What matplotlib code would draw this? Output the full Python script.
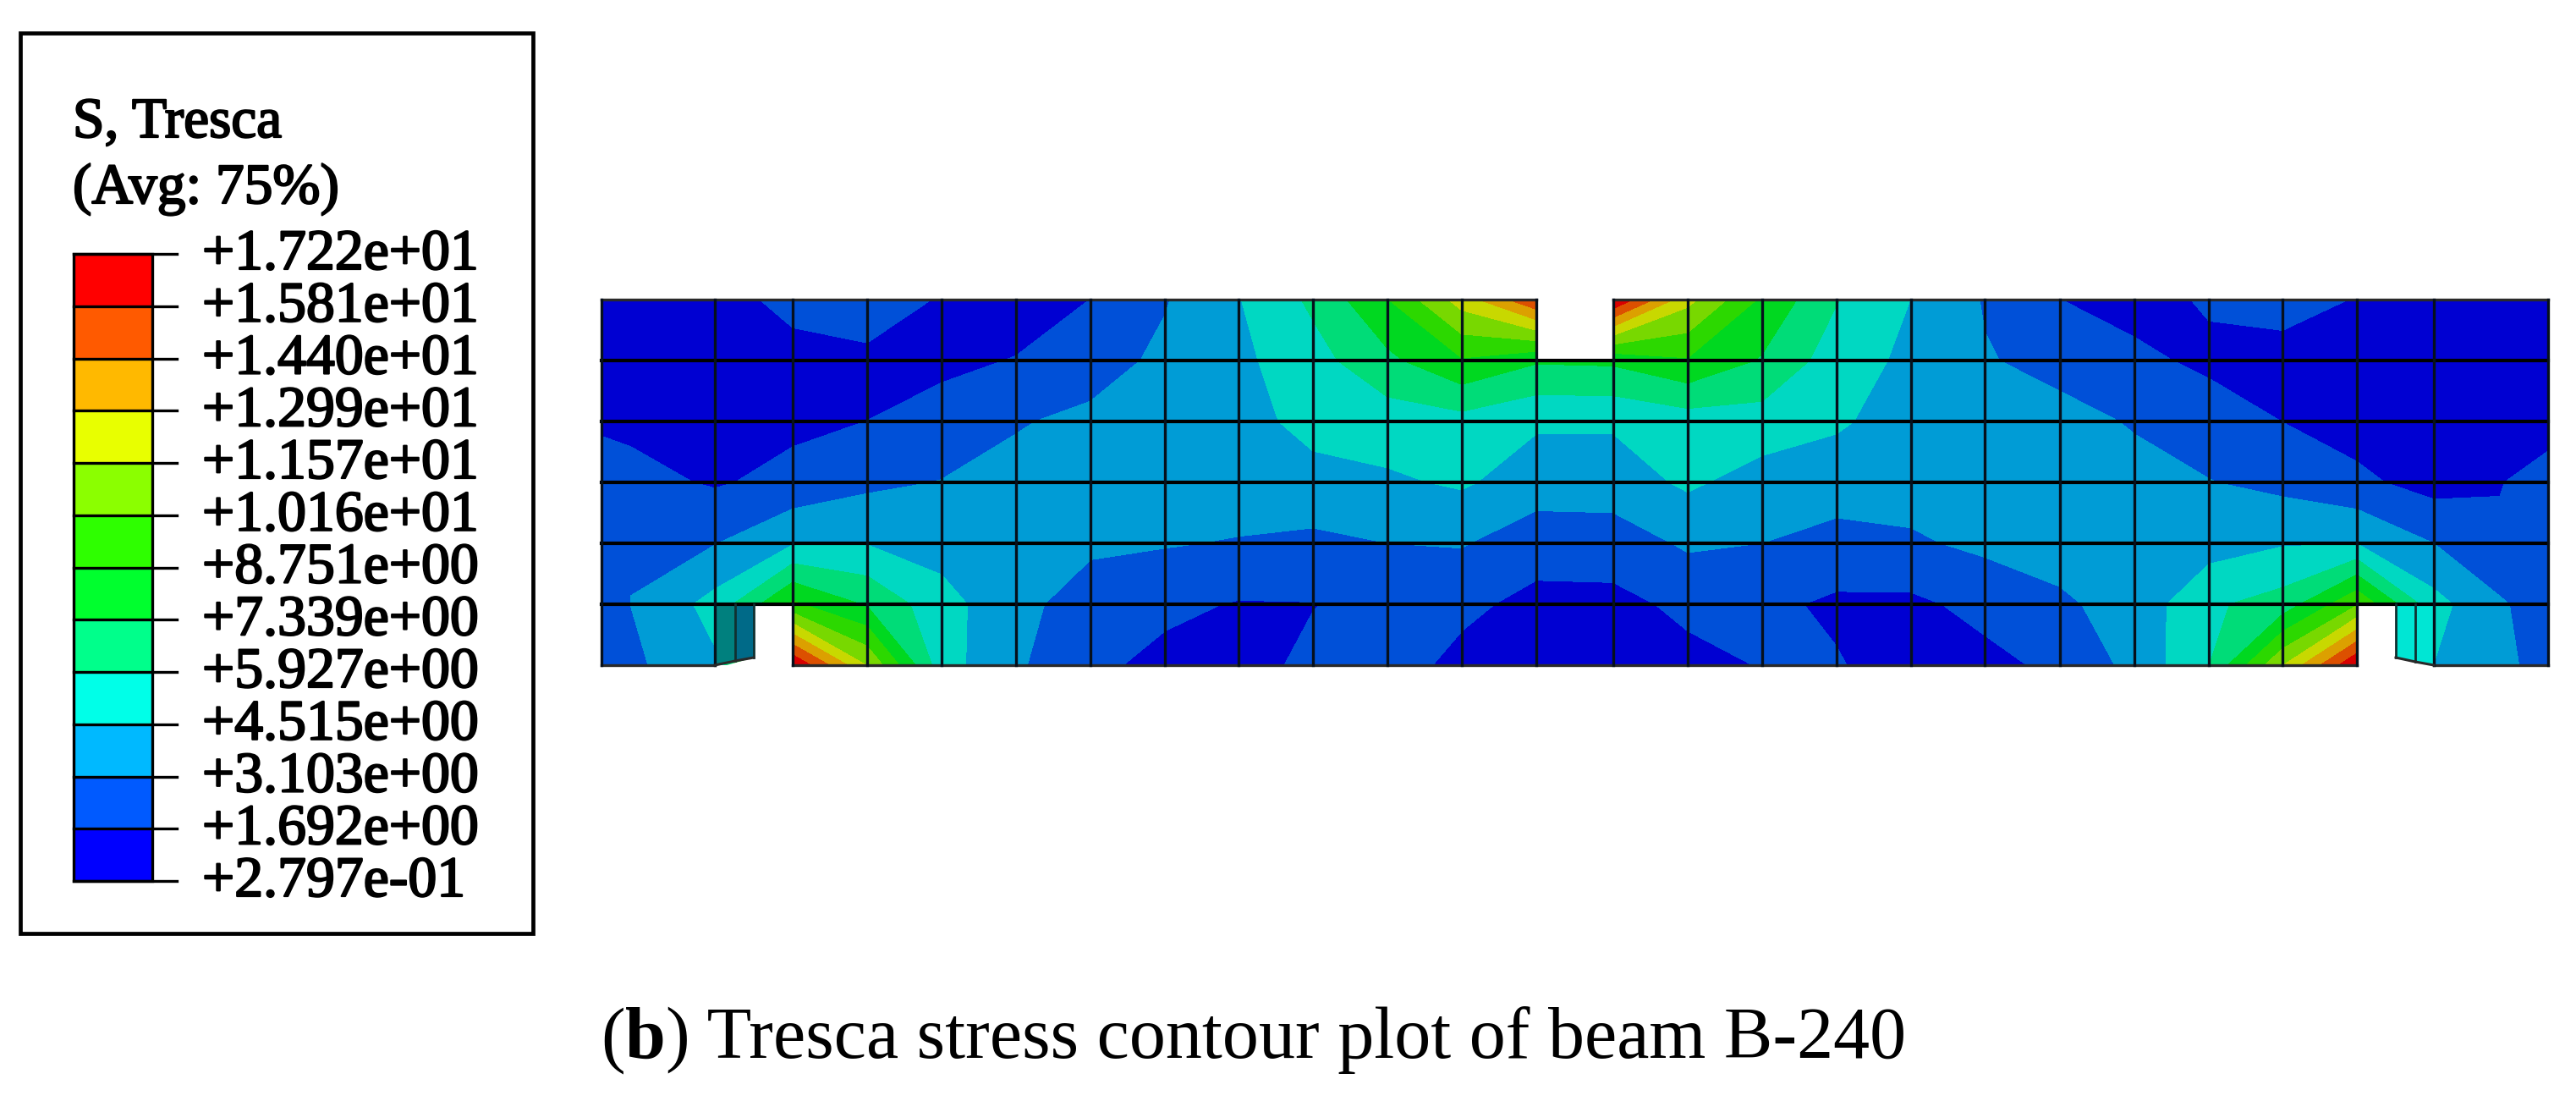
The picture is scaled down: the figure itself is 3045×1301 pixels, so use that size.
#!/usr/bin/env python3

import numpy as np
import matplotlib
matplotlib.use("Agg")
import matplotlib.pyplot as plt
import matplotlib.patheffects as pe
from matplotlib.patches import Polygon, Rectangle

plt.rcParams['font.family'] = ['Liberation Serif', 'DejaVu Serif']

# legend
levels = [0.2797, 1.692, 3.103, 4.515, 5.927, 7.339, 8.751, 10.16, 11.57, 12.99, 14.40, 15.81, 17.22]
level_labels = ['+2.797e-01', '+1.692e+00', '+3.103e+00', '+4.515e+00', '+5.927e+00', '+7.339e+00',
                '+8.751e+00', '+1.016e+01', '+1.157e+01', '+1.299e+01', '+1.440e+01', '+1.581e+01',
                '+1.722e+01']
legend_colors = ['#0000ff', '#005aff', '#00b9ff', '#00ffe8', '#00ff8b', '#00ff2e',
                 '#2eff00', '#8bff00', '#e8ff00', '#ffb900', '#ff5a00', '#ff0000']
# same bands as rendered on the lit beam, a bit darker
beam_colors = ['#0000d2', '#0050d8', '#009cd6', '#00d8c2', '#00dc78', '#00d820',
               '#2cd800', '#78d800', '#c8d800', '#dca000', '#dc5000', '#d80000']

# mesh node positions, in image pixels
mesh_x = [711, 845, 937, 1025, 1113, 1201, 1289, 1377, 1464, 1552, 1640, 1728, 1816,
          1907, 1995, 2083, 2171, 2259, 2346, 2435, 2523, 2611, 2698, 2786, 2877, 3012]
mesh_y = [354, 426, 498, 570, 642, 714, 786]

# Tresca stress at the nodes, one list per mesh row from the top
row0 = [1.0, 1.0, 2.2, 2.9, 1.5, 1.0, 1.7, 3.0, 4.45, 6.2, 8.7, 12.2, 15.7,
        17.2, 12.0, 8.5, 6.0, 4.5, 3.0, 1.7, 1.2, 1.85, 2.4, 1.6, 1.0, 1.0]
row1 = [1.0, 1.0, 1.1, 1.2, 1.4, 1.75, 2.5, 3.4, 4.2, 5.4, 7.0, 8.6, 7.5,
        7.6, 8.6, 7.2, 5.2, 4.2, 3.2, 2.7, 2.0, 1.4, 1.0, 1.0, 1.0, 1.0]
row2 = [1.5, 1.2, 1.4, 1.7, 2.2, 3.0, 3.4, 3.7, 3.95, 5.0, 5.2, 5.4, 4.7,
        4.7, 5.2, 5.3, 4.7, 3.9, 3.7, 3.5, 3.0, 2.4, 1.68, 1.1, 0.9, 1.4]
row3 = [2.3, 1.55, 2.1, 2.8, 3.15, 3.5, 3.7, 3.8, 3.9, 4.0, 4.3, 4.7, 3.8,
        3.8, 4.75, 3.9, 3.8, 3.7, 3.6, 3.6, 3.5, 3.15, 2.7, 2.0, 1.15, 2.0]
row4 = [2.4, 3.05, 4.4, 4.45, 4.0, 3.8, 3.4, 3.2, 3.0, 2.8, 3.1, 3.2, 2.3,
        2.4, 3.3, 3.1, 2.6, 2.9, 3.4, 3.6, 3.7, 3.9, 4.4, 4.5, 3.1, 2.2]
row5 = [2.6, 5.0, 9.0, 7.2, 5.0, 3.6, 2.3, 2.0, 1.6, 1.65, 2.1, 2.0, 1.3,
        1.3, 2.0, 2.0, 1.45, 1.4, 2.1, 2.9, 3.6, 5.7, 6.5, 10.0, 5.0, 2.3]
row6 = [2.4, 4.3, 17.2, 11.5, 5.1, 3.3, 2.0, 1.3, 1.2, 2.0, 2.3, 1.3, 1.0,
        1.0, 1.3, 1.75, 1.8, 1.0, 1.3, 2.0, 3.5, 5.9, 11.5, 17.2, 4.5, 2.5]

# two extra sampling columns inside the end elements, where bands turn sharply
end_left_x = 746
end_left = [1.0, 1.0, 1.4, 2.1, 3.0, 3.12, 2.8]
end_right_x = 2955
end_right = [1.0, 1.0, 1.25, 1.66, 1.8, 3.3, 3.5]

caption_rest = ') Tresca stress contour plot of beam B-240'

fig = plt.figure(figsize=(30.45, 13.01), dpi=100)
ax = fig.add_axes([0, 0, 1, 1])
ax.set_xlim(0, 3045)
ax.set_ylim(1301, 0)
ax.axis('off')

# beam contour
stress = np.array([row0, row1, row2, row3, row4, row5, row6])
stress = np.insert(stress, 1, end_left, axis=1)
stress = np.insert(stress, 26, end_right, axis=1)
contour_x = list(mesh_x)
contour_x.insert(1, end_left_x)
contour_x.insert(26, end_right_x)
ax.contourf(contour_x, mesh_y, stress, levels=levels, colors=beam_colors, extend='neither', zorder=1)

# notches cut out of the beam
x = mesh_x
y = mesh_y
ax.add_patch(Polygon([(891, y[5]), (x[2], y[5]), (x[2], 790), (x[1], 790), (891, 777)],
                     fc='white', ec='none', zorder=2))
ax.add_patch(Rectangle((x[12], 348), x[13] - x[12], y[1] - 348, fc='white', ec='none', zorder=2))
ax.add_patch(Polygon([(x[23], y[5]), (2832, y[5]), (2832, 777), (x[24], y[6]), (x[23], 790)],
                     fc='white', ec='none', zorder=2))

# small faces next to the support notches
ax.add_patch(Polygon([(x[1], y[5]), (869, y[5]), (869, 781), (x[1], y[6])], fc='#00807e', ec='none', zorder=3))
ax.add_patch(Polygon([(869, y[5]), (891, y[5]), (891, 777), (869, 781)], fc='#006a88', ec='none', zorder=3))
ax.add_patch(Polygon([(2832, y[5]), (2855, y[5]), (2855, 782), (2832, 777)], fc='#00e6d4', ec='none', zorder=3))
ax.add_patch(Polygon([(2855, y[5]), (x[24], y[5]), (x[24], y[6]), (2855, 782)], fc='#00e6d4', ec='none', zorder=3))

# mesh lines
for i, yy in enumerate(y):
    if i == 0:
        ax.plot([x[0], x[12]], [yy, yy], color='#2a2a2a', lw=2.4, zorder=4)
        ax.plot([x[13], x[25]], [yy, yy], color='#2a2a2a', lw=2.4, zorder=4)
    elif i == 6:
        ax.plot([x[0], x[1]], [yy, yy], color='#2a2a2a', lw=2.4, zorder=4)
        ax.plot([x[2], x[23]], [yy, yy], color='#2a2a2a', lw=2.4, zorder=4)
        ax.plot([x[24], x[25]], [yy, yy], color='#2a2a2a', lw=2.4, zorder=4)
    else:
        ax.plot([x[0], x[25]], [yy, yy], color='black', lw=3.0, zorder=4)
for xx in x:
    ax.plot([xx, xx], [y[0], y[6]], color='#06101c', lw=2.4, zorder=4)
for xx, low in [(869, 781), (891, 777), (2832, 777), (2855, 782)]:
    ax.plot([xx, xx], [y[5], low], color='#103030', lw=2.0, zorder=4)
ax.plot([x[1], 869, 891], [y[6], 781, 777], color='#2a2a2a', lw=2.2, zorder=4)
ax.plot([2832, 2855, x[24]], [777, 782, y[6]], color='#2a2a2a', lw=2.2, zorder=4)

# legend box
heavy = [pe.withStroke(linewidth=1.6, foreground='black')]
ax.add_patch(Rectangle((24, 39), 606, 1064, fc='white', ec='black', lw=3.4, zorder=1))
ax.text(86, 162, 'S, Tresca', fontsize=48.5, color='black', va='baseline', ha='left', path_effects=heavy)
ax.text(86, 240, '(Avg: 75%)', fontsize=48.5, color='black', va='baseline', ha='left', path_effects=heavy)

bar_top, bar_bottom = 300, 1041
step = (bar_bottom - bar_top) / (len(levels) - 1)
for i, c in enumerate(legend_colors):
    ax.add_patch(Rectangle((87, bar_bottom - (i + 1) * step), 93, step, fc=c, ec='black', lw=1.4, zorder=2))
ax.add_patch(Rectangle((87, bar_top), 93, bar_bottom - bar_top, fc='none', ec='black', lw=2.4, zorder=3))
for i, lab in enumerate(level_labels):
    ty = bar_bottom - i * step
    ax.plot([87, 209], [ty, ty], color='black', lw=2.4, zorder=3)
    ax.text(239, ty + 18, lab, fontsize=48.8, color='black', va='baseline', ha='left', path_effects=heavy)

# caption
ax.text(710, 1250, '(', fontsize=62, va='baseline', ha='left')
ax.text(739, 1250, 'b', fontsize=62, fontweight='bold', va='baseline', ha='left')
ax.text(787, 1250, caption_rest, fontsize=62, va='baseline', ha='left')

fig.savefig('out.png', dpi=100)
